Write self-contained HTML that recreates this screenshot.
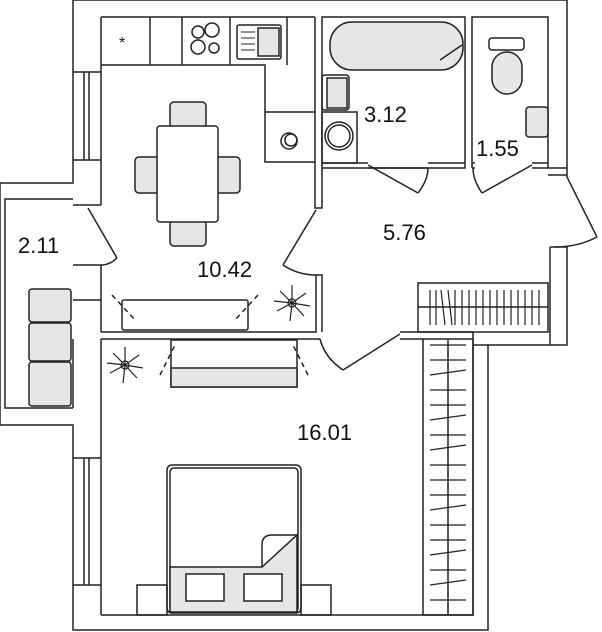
<!DOCTYPE html>
<html><head><style>html,body{margin:0;padding:0;background:#fff}svg{display:block}text{font-family:"Liberation Sans",sans-serif;fill:#111}</style></head>
<body>
<svg width="602" height="632" viewBox="0 0 602 632" xmlns="http://www.w3.org/2000/svg">
<g fill="none" stroke="#222" stroke-width="1.5">
<polyline points="567,177 567,0 73,0 73,183 0,183 0,425 73,425 73,630 488,630 488,345 567,345 567,247"/>
<polyline points="73,199 5,199 5,408 73,408"/>
<line x1="101" y1="17" x2="101" y2="205"/>
<line x1="101" y1="265" x2="101" y2="332"/>
<line x1="101" y1="339" x2="101" y2="615"/>
<line x1="73" y1="160" x2="101" y2="160"/><line x1="73" y1="205" x2="101" y2="205"/>
<line x1="73" y1="265" x2="101" y2="265"/><line x1="73" y1="300" x2="101" y2="300"/>
<line x1="73" y1="72" x2="101" y2="72"/>
<line x1="84" y1="72" x2="84" y2="160"/><line x1="89" y1="72" x2="89" y2="160"/>
<line x1="73" y1="458" x2="101" y2="458"/><line x1="73" y1="585" x2="101" y2="585"/>
<line x1="84" y1="458" x2="84" y2="585"/><line x1="89" y1="458" x2="89" y2="585"/>
<line x1="73" y1="339" x2="73" y2="408"/>
<line x1="101" y1="17" x2="315" y2="17"/>
<polyline points="315,17 315,208 322,208 322,17 465,17 465,168 368,168"/>
<polyline points="428,168 322,168"/>
<line x1="322" y1="163" x2="368" y2="163"/><line x1="428" y1="163" x2="465" y2="163"/>
<polyline points="472,168 472,17 548,17 548,168 567,168"/>
<line x1="472" y1="168" x2="475" y2="168"/><line x1="532" y1="168" x2="548" y2="168"/>
<line x1="472" y1="163" x2="475" y2="163"/><line x1="532" y1="163" x2="548" y2="163"/>
<line x1="548" y1="175" x2="567" y2="175"/>
<line x1="550" y1="247" x2="567" y2="247"/>
<line x1="550" y1="247" x2="550" y2="345"/>
<polyline points="101,332 316,332 316,275 322,275 322,332"/>
<polyline points="101,339 320,339"/>
<polyline points="400,332 473,332 473,615 101,615"/>
<line x1="400" y1="339" x2="423" y2="339"/>
<line x1="473" y1="345" x2="488" y2="345"/>
<rect x="418" y="283" width="130" height="49"/>
<line x1="418" y1="307" x2="548" y2="307"/>
<rect x="423" y="339" width="50" height="276"/>
<line x1="448" y1="339" x2="448" y2="615"/>
<line x1="368" y1="165" x2="418" y2="193"/><path d="M418,193 Q428,180 428,168"/>
<line x1="532" y1="165" x2="482" y2="193"/><path d="M482,193 Q473,180 473,168"/>
<line x1="567" y1="177" x2="597" y2="237"/><path d="M597,237 Q578,247 555,247"/>
<line x1="316" y1="210" x2="283" y2="265"/><path d="M283,265 Q298,275 316,275"/>
<line x1="88" y1="208" x2="117" y2="258"/><path d="M117,258 Q110,265 101,265"/>
<line x1="400" y1="334" x2="343" y2="370"/><path d="M343,370 Q325,358 320,339"/>
<polyline points="101,65 265,65 265,162 315,162"/>
<line x1="150" y1="17" x2="150" y2="65"/><line x1="182" y1="17" x2="182" y2="65"/>
<line x1="230" y1="17" x2="230" y2="65"/><line x1="287" y1="17" x2="287" y2="65"/>
<line x1="265" y1="112" x2="315" y2="112"/>
<rect x="237" y="25" width="44" height="34" rx="2"/><rect x="258" y="28" width="21" height="28" fill="#e6e6e6"/>
<path d="M241,32h14M241,38h14M241,44h14M241,50h14" stroke-width="1"/>
<circle cx="198" cy="32" r="6"/><circle cx="212" cy="30" r="7"/><circle cx="198" cy="47" r="7"/><circle cx="214" cy="48" r="5"/>
<circle cx="289" cy="141" r="8"/><circle cx="291" cy="140" r="6"/>
<g fill="#e6e6e6"><rect x="170" y="102" width="36" height="26" rx="4"/><rect x="170" y="220" width="36" height="26" rx="4"/>
<rect x="135" y="157" width="25" height="36" rx="4"/><rect x="215" y="157" width="25" height="36" rx="4"/></g>
<rect x="157" y="126" width="61" height="96" rx="3" fill="#fff"/>
<rect x="122" y="300" width="126" height="30" rx="2"/>
<line x1="112" y1="295" x2="135" y2="320" stroke-dasharray="5,4"/><line x1="258" y1="295" x2="235" y2="320" stroke-dasharray="5,4"/>
<g fill="#e6e6e6"><rect x="29" y="289" width="42" height="33" rx="3"/><rect x="29" y="323" width="42" height="38" rx="3"/><rect x="29" y="362" width="42" height="44" rx="3"/></g>
<rect x="330" y="22" width="133" height="48" rx="22" fill="#e6e6e6"/>
<line x1="440" y1="60" x2="462" y2="45"/>
<rect x="322" y="75" width="27" height="35" rx="3"/><rect x="327" y="78" width="20" height="30" fill="#e6e6e6"/>
<rect x="322" y="112" width="35" height="51"/><circle cx="339" cy="136" r="14"/><circle cx="339" cy="136" r="11"/>
<rect x="489" y="38" width="35" height="12" rx="3"/><rect x="492" y="52" width="30" height="42" rx="15" fill="#e6e6e6"/>
<rect x="526" y="107" width="22" height="30" rx="3" fill="#e6e6e6"/>
<rect x="171" y="340" width="126" height="47" fill="#fff"/><rect x="171" y="368" width="126" height="19" fill="#e6e6e6"/>
<line x1="160" y1="375" x2="175" y2="345" stroke-dasharray="5,4"/><line x1="308" y1="375" x2="293" y2="345" stroke-dasharray="5,4"/>
<rect x="167" y="465" width="134" height="148" rx="5"/><rect x="170" y="468" width="128" height="144" rx="4"/>
<path d="M170,567 L262,567 L297,535 L297,612 L170,612 Z" fill="#e6e6e6"/>
<path d="M262,567 L262,545 Q262,535 272,535 L297,535"/>
<rect x="186" y="574" width="38" height="27" fill="#fff"/><rect x="244" y="574" width="38" height="27" fill="#fff"/>
<rect x="137" y="585" width="30" height="30"/><rect x="301" y="585" width="30" height="30"/>
</g>
<g stroke="#222" stroke-width="1.2" fill="none">
<path d="M292,303l-12,-12M292,303l14,-10M292,303l-15,8M292,303l12,13M292,303l0,-18M292,303l-2,18M292,303l18,3M292,303l-18,-2"/>
<circle cx="292" cy="303" r="4"/>
<path d="M125,365l-12,-12M125,365l14,-10M125,365l-15,8M125,365l12,13M125,365l0,-18M125,365l-2,18M125,365l18,3M125,365l-18,-2"/>
<circle cx="125" cy="365" r="4"/>
<path d="M430,290v35M436,290v35M441,290l4,35M448,290l4,35M455,290v35M462,290v35M469,290v35M476,290v35M483,290v35M490,290v35M497,290v35M504,290v35M511,290v35M518,290v35M525,290v35M532,290v35M539,290v35"/>
<path d="M430,345h36M430,360h36M430,375l36,-5M430,390h36M430,405h36M430,420l36,-5M430,435h36M430,450l36,-5M430,465h36M430,480h36M430,495h36M430,510l36,-5M430,525h36M430,540h36M430,555l36,-5M430,570h36M430,585l36,-5M430,600h36"/>
</g>
<text x="18" y="253" font-size="22">2.11</text>
<text x="197" y="277" font-size="22">10.42</text>
<text x="364" y="122" font-size="22">3.12</text>
<text x="476" y="156" font-size="22">1.55</text>
<text x="383" y="240" font-size="22">5.76</text>
<text x="297" y="440" font-size="22">16.01</text>
<text x="119" y="48" font-size="16">*</text>
</svg>
</body></html>
